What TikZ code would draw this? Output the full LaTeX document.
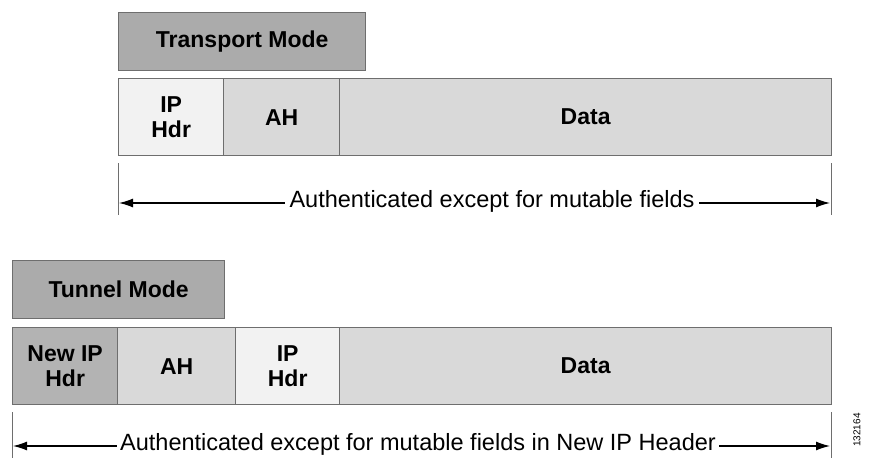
\documentclass[tikz,border=0pt]{standalone}
\usepackage{fontspec}
\setmainfont{Liberation Sans}
\usetikzlibrary{arrows.meta}
\definecolor{modefill}{HTML}{ABABAB}
\definecolor{lightcell}{HTML}{F2F2F2}
\definecolor{midcell}{HTML}{D9D9D9}
\definecolor{darkcell}{HTML}{B3B3B3}
\definecolor{edgegray}{HTML}{6E6E6E}
\tikzset{
  cellbox/.style={draw=edgegray, line width=1.3pt, inner sep=0pt, align=center,
    font=\fontsize{23}{25}\selectfont\bfseries},
  tick/.style={draw=edgegray, line width=1pt},
  span/.style={draw=black, line width=1.3pt, {Latex[length=14pt,width=9pt]}-{Latex[length=14pt,width=9pt]}},
  spanlabel/.style={fill=white, inner sep=5pt, font=\fontsize{23.5}{26}\selectfont}
}
\begin{document}
\begin{tikzpicture}[x=1pt,y=-1pt]
\useasboundingbox (0,0) rectangle (869,460);
% Transport mode
\node[cellbox, fill=modefill, minimum width=247pt, minimum height=58pt, anchor=north west] (tm) at (118,12) {Transport Mode};
\node[cellbox, fill=lightcell, minimum width=105pt, minimum height=77pt, anchor=north west] (ip1) at (118,78) {IP\\Hdr};
\node[cellbox, fill=midcell, minimum width=116pt, minimum height=77pt, anchor=north west] (ah1) at (223,78) {AH};
\node[cellbox, fill=midcell, minimum width=492pt, minimum height=77pt, anchor=north west] (data1) at (339,78) {Data};
\coordinate (t1a) at (118,163); \coordinate (t1b) at (118,215);
\coordinate (t1c) at (831,163); \coordinate (t1d) at (831,215);
\draw[tick] (t1a) -- (t1b);
\draw[tick] (t1c) -- (t1d);
\coordinate (a1l) at (119,203); \coordinate (a1r) at (830,203);
\draw[span] (a1l) -- (a1r);
\node[spanlabel] (lab1) at (492,201) {Authenticated except for mutable fields};
% Tunnel mode
\node[cellbox, fill=modefill, minimum width=212pt, minimum height=58pt, anchor=north west] (tun) at (12,260) {Tunnel Mode};
\node[cellbox, fill=darkcell, minimum width=105pt, minimum height=77pt, anchor=north west] (nip) at (12,327) {New IP\\Hdr};
\node[cellbox, fill=midcell, minimum width=118pt, minimum height=77pt, anchor=north west] (ah2) at (117,327) {AH};
\node[cellbox, fill=lightcell, minimum width=104pt, minimum height=77pt, anchor=north west] (ip2) at (235,327) {IP\\Hdr};
\node[cellbox, fill=midcell, minimum width=492pt, minimum height=77pt, anchor=north west] (data2) at (339,327) {Data};
\coordinate (t2a) at (12,412); \coordinate (t2b) at (12,458);
\coordinate (t2c) at (831,412); \coordinate (t2d) at (831,458);
\draw[tick] (t2a) -- (t2b);
\draw[tick] (t2c) -- (t2d);
\coordinate (a2l) at (13,446); \coordinate (a2r) at (830,446);
\draw[span] (a2l) -- (a2r);
\node[spanlabel, inner sep=3pt] (lab2) at (418,444) {Authenticated except for mutable fields in New IP Header};
\node[rotate=90, font=\fontsize{10}{12}\selectfont, inner sep=0pt] (code) at (857,430) {132164};
\end{tikzpicture}
\end{document}
